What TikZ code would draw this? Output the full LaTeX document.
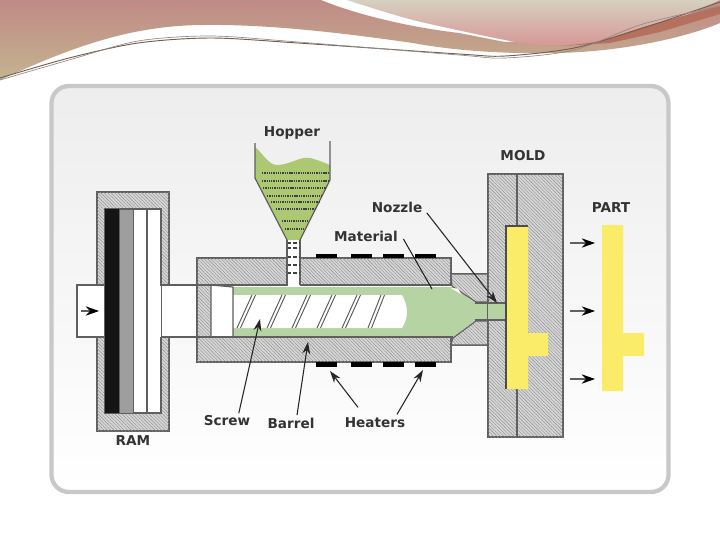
\documentclass[tikz,border=0pt]{standalone}
\usepackage{fontspec}
\setsansfont{DejaVu Sans}
\usetikzlibrary{arrows.meta,patterns.meta}
\definecolor{framegray}{RGB}{200,200,200}
\definecolor{linegray}{RGB}{95,95,95}
\definecolor{hatchgray}{RGB}{214,214,214}
\definecolor{hoppergreen}{RGB}{172,200,115}
\definecolor{meltgreen}{RGB}{181,211,163}
\definecolor{partyellow}{RGB}{250,235,105}
\definecolor{swooshrose}{RGB}{192,138,134}
\definecolor{swooshtan}{RGB}{196,180,143}
\definecolor{swooshpale}{RGB}{214,208,192}
\definecolor{swooshpink}{RGB}{215,152,150}
\definecolor{swooshred}{RGB}{181,112,95}
\definecolor{swooshbrown}{RGB}{125,90,75}
\tikzset{
  hatchfill/.style={pattern={Lines[angle=-45,distance=1.8pt,line width=0.3pt]},pattern color=black!45},
  hatched/.style={draw=linegray,line width=0.8pt,fill=hatchgray,postaction={hatchfill}},
  plainpart/.style={draw=linegray,line width=0.9pt,fill=white},
  heater/.style={fill=black,draw=none},
  lbl/.style={font=\sffamily\bfseries\fontsize{10.2}{12}\selectfont,text=black!80,inner sep=1pt},
  callout/.style={draw=black!85,line width=0.8pt,-{Stealth[length=9pt,width=6pt]}},
  leader/.style={draw=black!85,line width=0.8pt},
  pushdir/.style={draw=linegray,line width=1pt,-{Stealth[length=10pt,width=7pt,black]}},
  pellets/.style={draw=black!75,line width=0.9pt,dash pattern=on 1pt off 0.7pt},
}
\begin{document}
\begin{tikzpicture}[x=0.75pt,y=0.75pt,yscale=-1,xscale=1]
  \useasboundingbox (0,0) rectangle (720,540);
  \fill[white] (0,0) rectangle (720,540);
  % top swoosh
  \path[top color=swooshrose,bottom color=swooshtan] (0,0) -- (321,0) .. controls (350,12) and (400,26) .. (459,33) -- (505,42) -- (542,40) -- (720,0) -- (720,23) .. controls (680,40) and (610,53) .. (551,53) .. controls (500,54) and (450,50) .. (413,43) .. controls (370,37) and (280,24) .. (205,25) .. controls (130,25) and (70,48) .. (0,80) -- cycle;
  \path[top color=swooshpale,bottom color=swooshpink] plot[smooth] coordinates {(347,0) (413,20) (505,40) (542,45) (597,42) (666,23) (720,0)} -- cycle;
  \fill[swooshred] plot[smooth] coordinates {(560,46) (600,41) (650,25) (720,6)} -- (720,14) -- (660,32) -- (610,43) -- cycle;
  \draw[swooshbrown,line width=0.7pt] plot[smooth] coordinates {(0,78) (69,58) (138,43) (211,38) (298,43) (459,54) (505,56) (574,48) (643,28) (720,2)};
  \draw[black!45,line width=0.5pt] plot[smooth] coordinates {(0,80) (69,60) (138,41) (211,36) (298,42) (459,55) (505,58) (574,50) (643,24) (720,6)};
  % frame
  \draw[framegray,line width=3.2pt,rounded corners=13pt,top color=black!7,bottom color=white] (51.5,86) rectangle (668.5,492);
  % ram
  \path[hatched] (97,192) rectangle (169,431);
  \path[plainpart] (77,285) rectangle (197,337);
  \path[plainpart] (105,209) rectangle (161,413);
  \fill[black!92] (105,209) rectangle (119,413);
  \path[draw=linegray,fill=black!38] (119,209) rectangle (133,413);
  \draw[linegray,line width=0.9pt] (147,209) -- (147,413);
  \fill[white] (147.5,285.5) rectangle (161,336.5);
  \draw[pushdir] (81,311) -- (99,311);
  % barrel and nozzle
  \path[hatched] (451,274) rectangle (489,345);
  \path[hatched] (197,258) -- (451,258) -- (451,362) -- (197,362) -- cycle;
  \fill[white] (211,285) rectangle (452,337);
  \fill[meltgreen] (233,287) -- (452,287) -- (475,303) -- (506,303) -- (506,320) -- (475,320) -- (453,337) -- (233,337) -- cycle;
  \fill[white] (233,295) -- (402,295) .. controls (405,301) and (407,306) .. (407,312) .. controls (407,318) and (405,323) .. (402,328) -- (233,328) -- cycle;
  \fill[hatchgray] (452,286) -- (476,302) -- (489,302) -- (489,274) -- (451,274) -- cycle;
  \fill[hatchgray] (453,338) -- (476,321) -- (489,321) -- (489,345) -- (451,345) -- cycle;
  \path[draw=linegray,line width=0.8pt,hatchfill] (452,286) -- (476,302) -- (489,302) -- (489,274) -- (451,274) -- cycle;
  \path[draw=linegray,line width=0.8pt,hatchfill] (453,338) -- (476,321) -- (489,321) -- (489,345) -- (451,345) -- cycle;
  \fill[white] (451,288) -- (458,288.5) -- (461,294) -- cycle;
  \draw[linegray,line width=0.9pt] (211,285) -- (211,337) -- (233,337) -- (233,287) -- (211,285);
  \draw[linegray,line width=0.9pt] (197,285) -- (452,285) (197,337) -- (453,337);
  \foreach \fx/\tx in {237/252,267/282,292/307,317/332,342/357,368/381}{
    \draw[black!65,line width=0.7pt] (\fx,328) -- (\tx,295) (\fx+3.5,328) -- (\tx+3.5,295);
  }
  % heaters
  \foreach \hx in {316,351,383,415}{
    \fill[heater] (\hx,254) rectangle ++(21,4);
    \fill[heater] (\hx,362) rectangle ++(21,5);
  }
  % hopper
  \fill[hoppergreen] (255,147) .. controls (262,152) and (268,165) .. (277,165) .. controls (290,165) and (300,156) .. (310,158) .. controls (318,160) and (325,163) .. (330,165) -- (330,180) -- (300,240) -- (287,240) -- (255,178) -- cycle;
  \draw[linegray,line width=0.9pt] (255,143) -- (255,178) -- (287,240);
  \draw[linegray,line width=0.9pt] (330,141) -- (330,180) -- (300,240);
  \fill[white] (287.5,240) rectangle (299.5,286);
  \draw[linegray,line width=0.9pt] (287,240) -- (287,285) (300,240) -- (300,285);
  \foreach \py/\pa/\pb in {173/262/329,181/262/328,188/263/326,196/267/322,202/271/319,209/276/316,221/282/307,229/285/304}{
    \draw[pellets] (\pa,\py) -- (\pb,\py);
  }
  \foreach \py in {243,248,257,265,273}{
    \draw[pellets,line width=1.3pt,dash pattern=on 2.5pt off 1.5pt] (288,\py) -- (299,\py);
  }
  % mold
  \path[hatched] (488,174) rectangle (563,437);
  \draw[linegray,line width=0.9pt] (517,174) -- (517,437);
  \fill[meltgreen] (488,303) rectangle (506,320);
  \draw[linegray,line width=0.8pt] (475,303) -- (506,303) (475,320) -- (506,320);
  \fill[partyellow] (506,226) -- (528,226) -- (528,333) -- (548,333) -- (548,356) -- (528,356) -- (528,389) -- (506,389) -- cycle;
  \draw[black!70,line width=1.2pt] (506,389) -- (506,226) -- (528,226);
  % part
  \fill[partyellow] (602,225) -- (623,225) -- (623,333) -- (644,333) -- (644,356) -- (623,356) -- (623,391) -- (602,391) -- cycle;
  \foreach \ay [count=\ai] in {243,311,379}{
    \coordinate (ejfrom\ai) at (570,\ay);
    \coordinate (ejto\ai) at (595,\ay);
    \draw[pushdir] (ejfrom\ai) -- (ejto\ai);
  }
  % labels
  \node[lbl] (hopperlbl) at (292,132.5) {Hopper};
  \node[lbl] (moldlbl) at (523,156) {MOLD};
  \node[lbl] (nozzlelbl) at (397,207) {Nozzle};
  \node[lbl] (materiallbl) at (366,236) {Material};
  \node[lbl] (partlbl) at (611,208) {PART};
  \node[lbl] (screwlbl) at (227,421) {Screw};
  \node[lbl] (barrellbl) at (291,423) {Barrel};
  \node[lbl] (heaterslbl) at (375,423) {Heaters};
  \node[lbl] (ramlbl) at (133,441) {RAM};
  \coordinate (screwtip) at (260,319);
  \coordinate (barreltip) at (308,342);
  \coordinate (heatertipa) at (330,371);
  \coordinate (heatertipb) at (423,370);
  \coordinate (nozzletip) at (497,303);
  \coordinate (materialtip) at (432,289);
  \draw[callout] (screwlbl.north east) ++(-13,-1) -- (screwtip);
  \draw[callout] (barrellbl.north) ++(6,-1) -- (barreltip);
  \draw[callout] (heaterslbl.north) ++(-17,-9) -- (heatertipa);
  \draw[callout] (heaterslbl.north) ++(22,-2) -- (heatertipb);
  \draw[callout] (nozzlelbl.south east) ++(3,-1) -- (nozzletip);
  \draw[leader] (materiallbl.east) ++(4,3) -- (materialtip);
\end{tikzpicture}
\end{document}
